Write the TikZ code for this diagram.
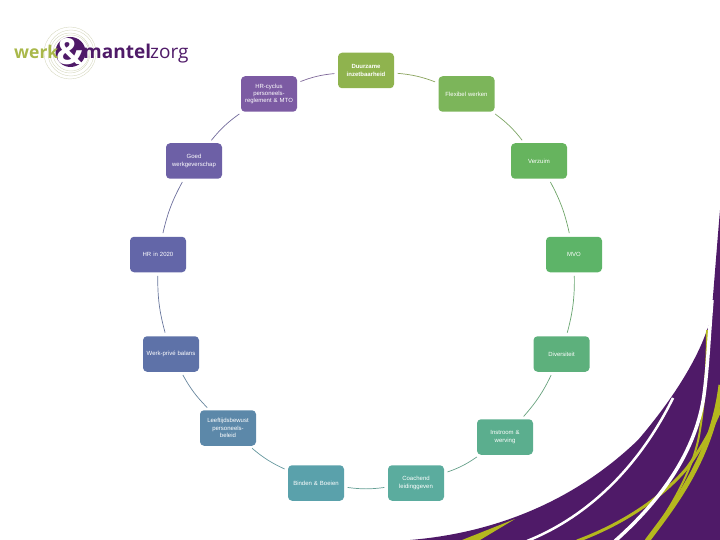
\documentclass[tikz,border=0pt]{standalone}
\usepackage{fontspec}
\setmainfont{Liberation Sans}
\newfontfamily\logofont{Open Sans}
\usetikzlibrary{positioning, calc}
\definecolor{plum}{HTML}{4F1A68}
\definecolor{olive}{HTML}{B5B81E}
\definecolor{logogreen}{HTML}{A9B84A}
\definecolor{ringgrey}{HTML}{D6D8C0}
\definecolor{c1}{HTML}{8FB34E}
\definecolor{c2}{HTML}{7CB55A}
\definecolor{c3}{HTML}{66B45E}
\definecolor{c4}{HTML}{5DB468}
\definecolor{c5}{HTML}{5DB07C}
\definecolor{c6}{HTML}{5BAE8E}
\definecolor{c7}{HTML}{5BAC9E}
\definecolor{c8}{HTML}{5AA1AB}
\definecolor{c9}{HTML}{5C88A9}
\definecolor{c10}{HTML}{5E72A8}
\definecolor{c11}{HTML}{6366A8}
\definecolor{c12}{HTML}{6D60A6}
\definecolor{c13}{HTML}{7C5BA3}

\begin{document}
\begin{tikzpicture}[x=1pt, y=-1pt,
    box/.style={rectangle, rounded corners=4pt, minimum width=56pt, minimum height=35.5pt,
      text width=54pt, align=center, text=white, font=\fontsize{6}{7.2}\selectfont, inner sep=1pt},
    link/.style={line width=0.7pt, bend left=8, shorten <=3.5pt, shorten >=3.5pt},
    logotext/.style={inner sep=0pt, anchor=base west, font=\logofont\fontsize{19}{19}\selectfont}]
    \useasboundingbox (0,0) rectangle (720,540);

    \fill[plum] (410,540) .. controls (470,535) and (560,515) .. (638,440)
      .. controls (668,405) and (695,365) .. (707,330)
      -- (711,320) .. controls (714,285) and (717,245) .. (720,210) -- (720,540) -- cycle;
    \fill[olive] (462,540) -- (515,519) -- (480,540) -- cycle;
    \draw[olive, line width=3pt] (577,541) .. controls (620,525) and (660,500) .. (687,468)
      .. controls (700,450) and (712,430) .. (721,408);
    \draw[olive, line width=5pt] (647,541) .. controls (670,510) and (712,460) .. (721,385);
    \draw[olive, line width=2pt] (655,530) .. controls (675,500) and (695,465) .. (700,430)
      .. controls (705,400) and (707,360) .. (707,330);
    \draw[white, line width=2.5pt] (527,541) .. controls (580,520) and (635,475) .. (673,398);
    \draw[white, line width=3.5pt] (615,541) .. controls (650,510) and (695,460) .. (704,395)
      .. controls (708,365) and (709,335) .. (712,300);

    \foreach \ringsize/\ringshift in {26/0, 23/1, 20/0, 18/1}
      \draw[ringgrey, line width=0.4pt] (70+\ringshift,53) circle (\ringsize);
    \node[circle, fill=plum, minimum size=30pt, inner sep=0pt] (ampdisc) at (70.5,52) {};
    \node[text=white, inner sep=0pt, font=\logofont\bfseries\fontsize{36}{36}\selectfont] (amp) at (70,52) {\&};
    \node[logotext, text=logogreen, font=\logofont\bfseries\fontsize{17.5}{17.5}\selectfont] (werk) at (14,58.5) {werk};
    \node[logotext, text=plum, font=\logofont\bfseries\fontsize{19}{19}\selectfont] (mantel) at (83,58.5) {mantel};
    \node[logotext, text=plum] (zorg) at (150,58.5) {zorg};

    \node[box, fill=c1, font=\bfseries\fontsize{6}{7.2}\selectfont] (duurzaam) at (366,70.5) {Duurzame\\inzetbaarheid};
    \node[box, fill=c2] (flexibel) at (466.5,94) {Flexibel werken};
    \node[box, fill=c3] (verzuim) at (539,161) {Verzuim};
    \node[box, fill=c4] (mvo) at (574,254.5) {MVO};
    \node[box, fill=c5] (diversiteit) at (561.5,354) {Diversiteit};
    \node[box, fill=c6] (instroom) at (505,437) {Instroom \&\\werving};
    \node[box, fill=c7] (coachend) at (416,483) {Coachend\\leidinggeven};
    \node[box, fill=c8] (binden) at (316,483) {Binden \& Boeien};
    \node[box, fill=c9] (leeftijd) at (228,428) {Leeftijdsbewust\\personeels-\\beleid};
    \node[box, fill=c10] (werkprive) at (171,354) {Werk-privé balans};
    \node[box, fill=c11] (hr) at (158,254.5) {HR in 2020};
    \node[box, fill=c12] (goed) at (194,161) {Goed\\werkgeverschap};
    \node[box, fill=c13] (hrcyclus) at (269,94) {HR-cyclus\\personeels-\\reglement \& MTO};

    \path[link, c1!70!gray] (duurzaam) edge (flexibel);
    \path[link, c2!70!gray] (flexibel) edge (verzuim);
    \path[link, c3!70!gray] (verzuim) edge (mvo);
    \path[link, c4!70!gray] (mvo) edge (diversiteit);
    \path[link, c5!70!gray] (diversiteit) edge (instroom);
    \path[link, c6!70!gray] (instroom) edge (coachend);
    \path[link, c7!70!gray] (coachend) edge (binden);
    \path[link, c8!70!gray] (binden) edge (leeftijd);
    \path[link, c9!70!gray] (leeftijd) edge (werkprive);
    \path[link, c10!70!gray] (werkprive) edge (hr);
    \path[link, c11!70!gray] (hr) edge (goed);
    \path[link, c12!70!gray] (goed) edge (hrcyclus);
    \path[link, c13!70!gray] (hrcyclus) edge (duurzaam);
\end{tikzpicture}
\end{document}
